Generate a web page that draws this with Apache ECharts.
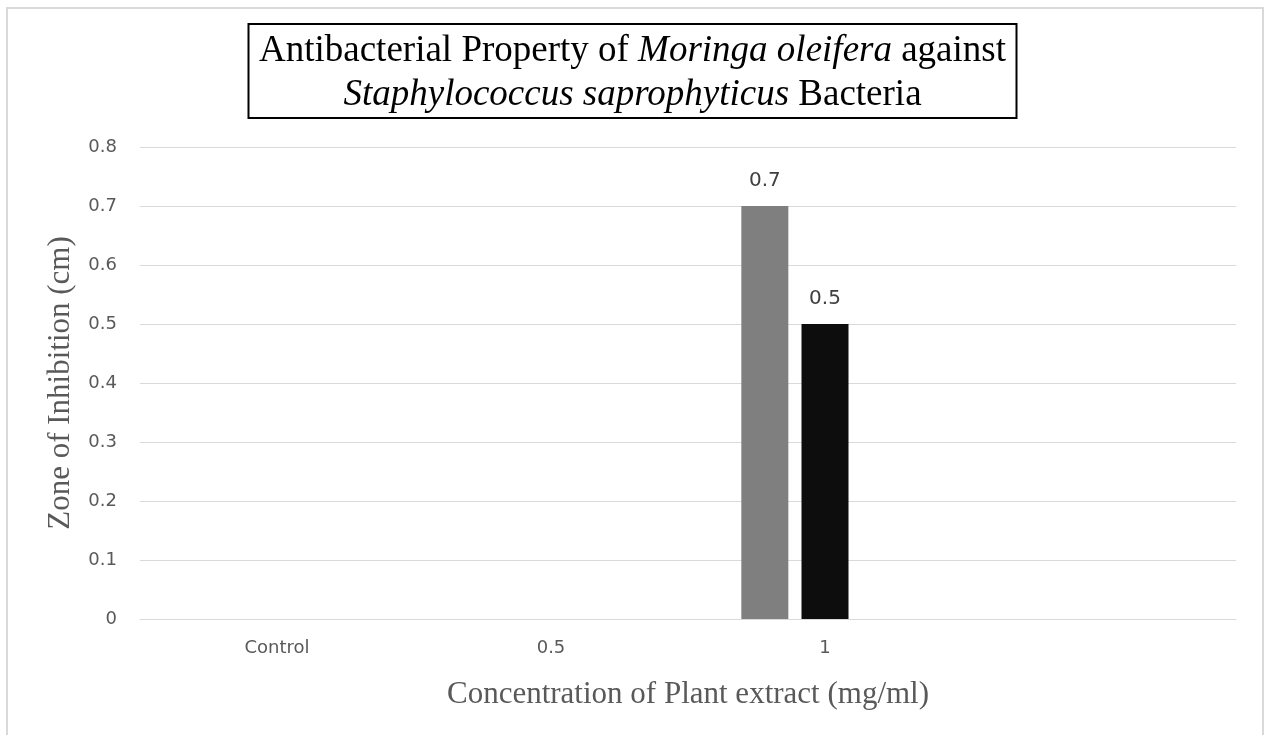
<!DOCTYPE html>
<html>
<head>
<meta charset="utf-8">
<script src="https://cdn.jsdelivr.net/npm/echarts@6/dist/echarts.min.js"></script>
<style>
    html, body { margin: 0; padding: 0; background: #fff; }
    #main { width: 1265px; height: 735px; }
</style>
</head>
<body>
<div id="main"></div>
<script>
// 数据
const categories = ['Control', '0.5', '1', ''];
const series1 = [null, null, 0.7, null];
const series2 = [null, null, 0.5, null];
const series3 = [null, null, null, null];
const yTicks = { min: 0, max: 0.8, interval: 0.1 };

const barColors = ['#7f7f7f', '#0d0d0d', '#a5a5a5'];
const serif = "'Liberation Serif', 'Times New Roman', serif";
const sans = "'DejaVu Sans', sans-serif";

const chart = echarts.init(document.getElementById('main'));

const makeBar = (name, data, i) => ({
    name: name,
    type: 'bar',
    data: data,
    barWidth: 47,
    barGap: '28%',
    itemStyle: { color: barColors[i] },
    label: {
        show: true,
        position: 'top',
        distance: 15,
        color: '#404040',
        fontFamily: sans,
        fontSize: 20
    }
});

const option = {
    animation: false,
    // 外框
    graphic: [{
        type: 'rect',
        shape: { x: 7, y: 8, width: 1256, height: 760 },
        style: { fill: 'none', stroke: '#d9d9d9', lineWidth: 2 },
        silent: true
    }],
    title: {
        left: 'center',
        top: 20,
        borderColor: '#000',
        borderWidth: 2,
        padding: [9, 11, 5, 11],
        text: '{n|Antibacterial Property of }{i|Moringa oleifera}{n| against}\n{i|Staphylococcus saprophyticus}{n| Bacteria}',
        textStyle: {
            fontWeight: 'normal',
            rich: {
                n: { fontFamily: serif, fontSize: 37, fontWeight: 'normal', color: '#000', lineHeight: 44, align: 'center' },
                i: { fontFamily: serif, fontSize: 37, fontWeight: 'normal', fontStyle: 'italic', color: '#000', lineHeight: 44, align: 'center' }
            }
        }
    },
    grid: {
        left: 140,
        right: 29,
        top: 147,
        bottom: 116
    },
    xAxis: {
        type: 'category',
        data: categories,
        name: 'Concentration of Plant extract (mg/ml)',
        nameLocation: 'middle',
        nameGap: 60,
        nameTextStyle: { fontFamily: serif, fontSize: 31, color: '#595959' },
        axisLine: { lineStyle: { color: '#d9d9d9', width: 1 } },
        axisTick: { show: false },
        axisLabel: { margin: 20, color: '#595959', fontFamily: sans, fontSize: 18 }
    },
    yAxis: {
        type: 'value',
        min: yTicks.min,
        max: yTicks.max,
        interval: yTicks.interval,
        name: 'Zone of Inhibition (cm)',
        nameLocation: 'middle',
        nameGap: 64,
        nameTextStyle: { fontFamily: serif, fontSize: 31, color: '#595959' },
        axisLine: { show: false },
        axisTick: { show: false },
        splitLine: { lineStyle: { color: '#d9d9d9', width: 1 } },
        axisLabel: {
            margin: 23,
            color: '#595959',
            fontFamily: sans,
            fontSize: 18,
            formatter: (v) => String(Math.round(v * 10) / 10)
        }
    },
    series: [
        makeBar('Series1', series1, 0),
        makeBar('Series2', series2, 1),
        makeBar('Series3', series3, 2)
    ]
};

chart.setOption(option);
</script>
</body>
</html>
